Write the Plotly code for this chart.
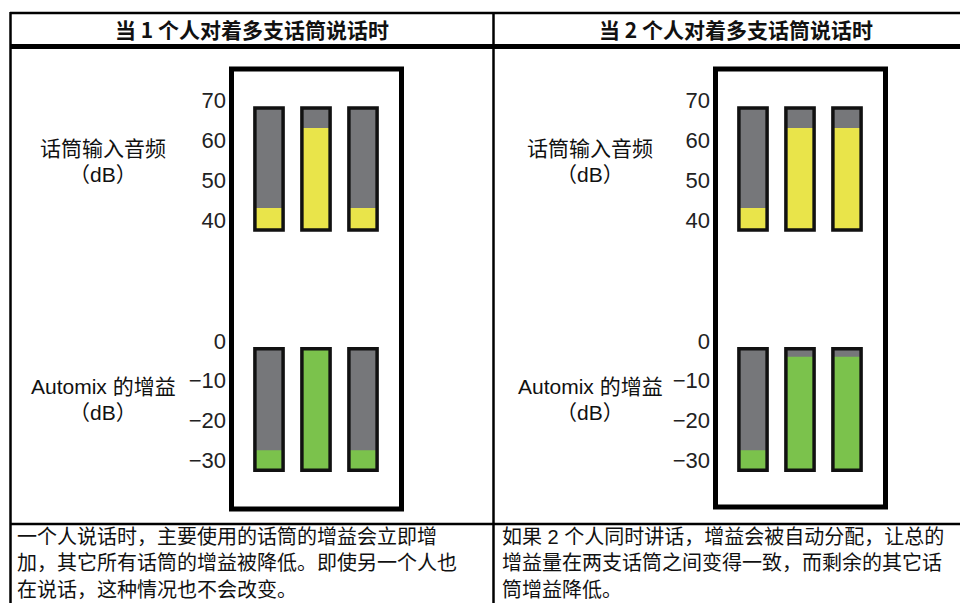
import plotly.graph_objects as go

# the page keeps an 8px body margin, so the figure is drawn 8px smaller
# and all positions below are given in window pixels
OFF = 8
W, H = 968 - OFF, 603 - OFF

GREY = "#76777a"
YELLOW = "#e9e44a"
GREEN = "#7bc24c"
CJK = "Noto Sans CJK SC"
LATIN = "Liberation Sans, Arial, Noto Sans CJK SC"

# data
meters = ["1", "2", "3"]
input_ticks = [40, 50, 60, 70]
input_ticktext = ["40", "50", "60", "70"]
gain_ticks = [-30, -20, -10, 0]
gain_ticktext = ["−30", "−20", "−10", "0"]

input_floor, input_ceiling = 37.5, 68
gain_floor, gain_ceiling = -32.5, -2

one_talker_input = [43, 63, 43]
one_talker_gain = [-27.5, -2, -27.5]
two_talker_input = [43, 63, 63]
two_talker_gain = [-27.5, -4, -4]

headers = ["当 1 个人对着多支话筒说话时", "当 2 个人对着多支话筒说话时"]
notes_left = [
    "一个人说话时，主要使用的话筒的增益会立即增",
    "加，其它所有话筒的增益被降低。即使另一个人也",
    "在说话，这种情况也不会改变。",
]
notes_right = [
    "如果 2 个人同时讲话，增益会被自动分配，让总的",
    "增益量在两支话筒之间变得一致，而剩余的其它话",
    "筒增益降低。",
]


def px(x):
    return (x - OFF) / W


def py(y):
    return 1 - (y - OFF) / H


fig = go.Figure()


def add_meter(levels, floor, ceil, color, xa, ya):
    n = len(meters)
    common = dict(x=meters, base=floor, width=0.6, xaxis=xa, yaxis=ya, hoverinfo="skip")
    fig.add_trace(go.Bar(y=[ceil - floor] * n, marker=dict(color=GREY, line_width=0), **common))
    fig.add_trace(go.Bar(y=[v - floor for v in levels], marker=dict(color=color, line_width=0), **common))
    fig.add_trace(go.Bar(y=[ceil - floor] * n,
                         marker=dict(color="rgba(0,0,0,0)", line=dict(color="#111111", width=3.5)),
                         **common))


add_meter(one_talker_input, input_floor, input_ceiling, YELLOW, "x", "y")
add_meter(one_talker_gain, gain_floor, gain_ceiling, GREEN, "x2", "y2")
add_meter(two_talker_input, input_floor, input_ceiling, YELLOW, "x3", "y3")
add_meter(two_talker_gain, gain_floor, gain_ceiling, GREEN, "x4", "y4")

panels = [(245.5, 386.5, 230), (729.5, 870.5, 714)]
rows = [((80, 260), (30, 75), input_ticks, input_ticktext),
        ((321, 500), (-40, 5), gain_ticks, gain_ticktext)]

layout_axes = {}
k = 1
for x0, x1, axis_x in panels:
    for (top, bottom), yr, tv, tt in rows:
        sx = "" if k == 1 else str(k)
        layout_axes["xaxis" + sx] = dict(domain=[px(x0), px(x1)], range=[-0.5, 2.5],
                                         visible=False, anchor="y" + sx)
        layout_axes["yaxis" + sx] = dict(domain=[py(bottom), py(top)], range=list(yr),
                                         anchor="free", position=px(axis_x),
                                         tickvals=tv, ticktext=tt, showgrid=False,
                                         zeroline=False, showline=False, ticks="",
                                         ticklabelstandoff=4,
                                         tickfont=dict(family=LATIN, size=22, color="#222222"))
        k += 1

shapes = []


def line(x0, y0, x1, y1, w):
    shapes.append(dict(type="line", xref="paper", yref="paper",
                       x0=px(x0), y0=py(y0), x1=px(x1), y1=py(y1),
                       line=dict(color="black", width=w)))


# table frame
line(10, 13, 968, 13, 2.5)
line(10, 46.5, 968, 46.5, 5)
line(10, 524, 968, 524, 2.5)
line(10.5, 12, 10.5, 603, 2.5)
line(493.5, 12, 493.5, 603, 2.5)

# thick boxes around the meters
for bx0, bx1, by1 in [(231.5, 401.5, 509), (715.5, 885.5, 507)]:
    shapes.append(dict(type="rect", xref="paper", yref="paper",
                       x0=px(bx0), x1=px(bx1), y0=py(by1), y1=py(69),
                       line=dict(color="black", width=5), fillcolor="rgba(0,0,0,0)"))

annotations = []


def text(x, y, s, size, family=CJK, bold=False, xanchor="center", align="center"):
    if bold:
        s = "<b>" + s + "</b>"
    annotations.append(dict(x=px(x), y=py(y), xref="paper", yref="paper", text=s,
                            showarrow=False, xanchor=xanchor, yanchor="middle", align=align,
                            borderpad=0,
                            font=dict(family=family, size=size, color="#111111")))


text(252, 29, headers[0], 21, bold=True)
text(736, 29, headers[1], 21, bold=True)

for cx in (103, 590):
    text(cx, 147, "话筒输入音频", 21)
    text(cx, 174, "（dB）", 21, family=LATIN)
    text(cx, 386, "Automix 的增益", 21, family=LATIN)
    text(cx, 412, "（dB）", 21, family=LATIN)

for i, (a, b) in enumerate(zip(notes_left, notes_right)):
    y = 537 + i * 26.3
    text(16, y, a, 20, family=LATIN, xanchor="left", align="left")
    text(501, y, b, 20, family=LATIN, xanchor="left", align="left")

fig.update_layout(
    width=W, height=H,
    margin=dict(l=0, r=0, t=0, b=0),
    paper_bgcolor="white", plot_bgcolor="white",
    barmode="overlay", showlegend=False,
    shapes=shapes, annotations=annotations,
    **layout_axes,
)

fig.write_html("out.html")
